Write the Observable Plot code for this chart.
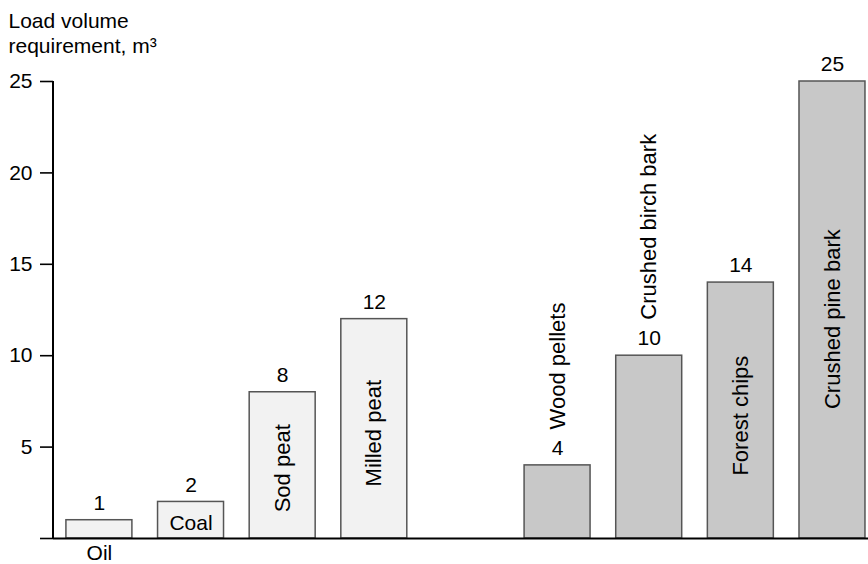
<!DOCTYPE html>
<html>
<head>
<meta charset="utf-8">
<script src="https://cdn.jsdelivr.net/npm/d3@7"></script>
<script src="https://cdn.jsdelivr.net/npm/@observablehq/plot@0.6"></script>
<style>
  html, body { margin: 0; padding: 0; background: #fff; }
  #chart { width: 868px; height: 564px; }
</style>
</head>
<body>
<div id="chart"></div>
<script>
const titleText = "Load volume\nrequirement, m³";
const categories = ["Oil", "Coal", "Sod peat", "Milled peat", "", "Wood pellets", "Crushed birch bark", "Forest chips", "Crushed pine bark"];
const values = [1, 2, 8, 12, 0, 4, 10, 14, 25];
const groups = ["Fossil", "Fossil", "Peat", "Peat", "", "Wood", "Wood", "Wood", "Wood"];
const yTicks = [0, 5, 10, 15, 20, 25];

const rows = categories.map((name, i) => ({name, value: values[i], group: groups[i]}));

const labelBelow = new Set(["Oil"]);
const labelInsideFlat = new Set(["Coal"]);
const labelInsideRot = new Set(["Sod peat", "Milled peat", "Forest chips", "Crushed pine bark"]);
const labelAboveRot = new Set(["Wood pellets", "Crushed birch bark"]);

const fillFor = g => g === "Wood" ? "#c8c8c8" : "#f2f2f2";
const font = "'Liberation Sans', Arial, Helvetica, sans-serif";

// vertical axis line drawn from the y scale
const yAxisLine = (index, scales, values, dimensions) => {
  const ns = "http://www.w3.org/2000/svg";
  const line = document.createElementNS(ns, "line");
  const x = dimensions.marginLeft;
  line.setAttribute("x1", x);
  line.setAttribute("x2", x);
  line.setAttribute("y1", scales.y(yTicks[0]));
  line.setAttribute("y2", scales.y(yTicks[yTicks.length - 1]));
  line.setAttribute("stroke", "#000");
  line.setAttribute("stroke-width", 2);
  return line;
};

const chart = Plot.plot({
  width: 868,
  height: 564,
  marginLeft: 53,
  marginRight: 0,
  marginTop: 81,
  marginBottom: 26,
  style: {fontFamily: font, fontSize: "21px", color: "#000", background: "#fff"},
  x: {domain: categories, paddingInner: 0.28, paddingOuter: 0.087, align: 0.81, round: false, axis: null},
  y: {domain: [0, 25], axis: null},
  marks: [
    Plot.barY(rows, {x: "name", y: "value", fill: d => fillFor(d.group), stroke: "#555", strokeWidth: 1.5}),
    Plot.ruleY([0], {stroke: "#000", strokeWidth: 2}),
    Plot.axisY({ticks: yTicks, tickSize: 13, tickPadding: 8, label: null, tickFormat: d => d === 0 ? "" : String(d),
                stroke: "#000", strokeWidth: 1.6, fontSize: 21}),
    yAxisLine,
    // value labels
    Plot.text(rows.filter(d => d.value > 0), {x: "name", y: "value", text: d => String(d.value), dy: -17, lineAnchor: "middle", fill: "#000", fontSize: 21}),
    // category labels
    Plot.text(rows.filter(d => labelBelow.has(d.name)), {x: "name", y: 0, text: "name", dy: 15, lineAnchor: "middle", fill: "#000", fontSize: 21}),
    Plot.text(rows.filter(d => labelInsideFlat.has(d.name)), {x: "name", y: d => d.value / 2, text: "name", dy: 3, lineAnchor: "middle", fill: "#000", fontSize: 21}),
    Plot.text(rows.filter(d => labelInsideRot.has(d.name)), {x: "name", y: d => d.value * 0.48, text: "name", rotate: -90, textAnchor: "middle", lineAnchor: "middle", fill: "#000", fontSize: 22}),
    Plot.text(rows.filter(d => labelAboveRot.has(d.name)), {x: "name", y: "value", text: "name", rotate: -90, dy: -36, textAnchor: "start", lineAnchor: "middle", fill: "#000", fontSize: 22}),
    // title
    Plot.text([titleText], {frameAnchor: "top-left", text: d => d, dx: -45, dy: -71, textAnchor: "start", lineAnchor: "top", lineHeight: 25 / 21, fill: "#000", fontSize: 21})
  ]
});
document.getElementById("chart").appendChild(chart);
</script>
</body>
</html>
